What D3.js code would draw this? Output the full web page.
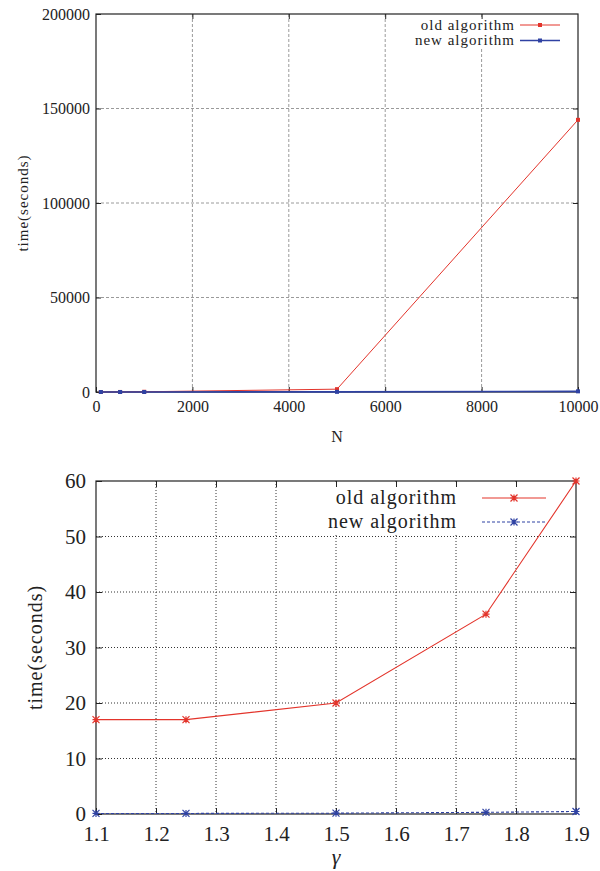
<!DOCTYPE html>
<html><head><meta charset="utf-8">
<script src="https://cdn.jsdelivr.net/npm/d3@7"></script>
<style>body{margin:0;background:#fff}svg text{font-family:"Liberation Serif","Times New Roman","DejaVu Serif",serif;fill:#222}</style>
</head><body>
<svg id="c" width="600" height="871"></svg>
<script>
// ---- Top chart data ----
const topN = [100, 500, 1000, 5000, 10000];
const topOld = [1, 20, 120, 1500, 144000];
const topNew = [0.1, 1, 3, 80, 350];
const topXTicks = [0, 2000, 4000, 6000, 8000, 10000];
const topYTicks = [0, 50000, 100000, 150000, 200000];
// ---- Bottom chart data ----
const gamma = [1.1, 1.25, 1.5, 1.75, 1.9];
const botOld = [17, 17, 20, 36, 60];
const botNew = [0.1, 0.1, 0.15, 0.3, 0.45];
const botXTicks = [1.1, 1.2, 1.3, 1.4, 1.5, 1.6, 1.7, 1.8, 1.9];
const botYTicks = [0, 10, 20, 30, 40, 50, 60];
const seriesNames = ["old algorithm", "new algorithm"];

const FONT = '"Liberation Serif","Times New Roman","DejaVu Serif",serif';
const RED = "#e3342b", BLUE = "#2f42a3";
const svg = d3.select("#c");

function panel(o) {
  const g = svg.append("g");
  const x = d3.scaleLinear().domain(o.xd).range([o.l, o.r]);
  const y = d3.scaleLinear().domain(o.yd).range([o.b, o.t]);
  // grid
  g.selectAll(".gx").data(o.xt.slice(1, -1)).join("line")
    .attr("x1", d => x(d)).attr("x2", d => x(d)).attr("y1", o.t).attr("y2", o.b)
    .attr("stroke", o.gridColor).attr("stroke-width", 1).attr("stroke-dasharray", o.gridDash);
  g.selectAll(".gy").data(o.yt.slice(1, -1)).join("line")
    .attr("x1", o.l).attr("x2", o.r).attr("y1", d => y(d)).attr("y2", d => y(d))
    .attr("stroke", o.gridColor).attr("stroke-width", 1).attr("stroke-dasharray", o.gridDash);
  // legend background
  g.append("rect").attr("x", o.lg.bx).attr("y", o.lg.by).attr("width", o.lg.bw).attr("height", o.lg.bh).attr("fill", "#fff");
  // axes with inward ticks (mirrored)
  const tl = o.tickLen;
  const ax = d3.axisBottom(x).tickValues(o.xt).tickSize(-tl).tickPadding(o.xPad).tickFormat(o.xf);
  const ay = d3.axisLeft(y).tickValues(o.yt).tickSize(-tl).tickPadding(o.yPad).tickFormat(o.yf);
  const gx = g.append("g").attr("transform", `translate(0,${o.b})`).call(ax);
  const gy = g.append("g").attr("transform", `translate(${o.l},0)`).call(ay);
  g.append("g").attr("transform", `translate(0,${o.t})`).call(d3.axisTop(x).tickValues(o.xt.slice(1,-1)).tickSize(-tl).tickFormat(""));
  g.append("g").attr("transform", `translate(${o.r},0)`).call(d3.axisRight(y).tickValues(o.yt.slice(1,-1)).tickSize(-tl).tickFormat(""));
  g.selectAll("g").attr("font-family", FONT);
  g.selectAll(".domain").remove();
  g.selectAll(".tick line").attr("stroke", "#222");
  g.selectAll(".tick text").style("font-family", FONT).style("font-size", o.fs + "px").attr("fill", "#222");
  gx.selectAll(".tick text").attr("dy", "0.71em");
  // frame
  g.append("rect").attr("x", o.l).attr("y", o.t).attr("width", o.r - o.l).attr("height", o.b - o.t)
    .attr("fill", "none").attr("stroke", "#222").attr("stroke-width", 1.2);
  // series
  const series = [
    {v: o.old, c: RED, dash: null, w: o.oldW},
    {v: o.nw, c: BLUE, dash: o.newDash, w: o.newW}
  ];
  const line = d3.line().x(d => x(d[0])).y(d => y(d[1]));
  series.forEach(s => {
    const pts = o.xs.map((xv, i) => [xv, s.v[i]]);
    g.append("path").attr("d", line(pts)).attr("fill", "none").attr("stroke", s.c)
      .attr("stroke-width", s.w).attr("stroke-dasharray", s.dash);
    pts.forEach(p => o.marker(g, x(p[0]), y(p[1]), s.c));
  });
  // legend
  seriesNames.forEach((nm, i) => {
    const yy = o.lg.y0 + i * o.lg.dy;
    g.append("text").attr("x", o.lg.tx).attr("y", yy).attr("dy", "0.32em").attr("text-anchor", "end")
      .style("font-family", FONT).style("font-size", o.lgfs + "px").style("letter-spacing", o.ls + "px").text(nm);
    const s = series[i];
    g.append("line").attr("x1", o.lg.x1).attr("x2", o.lg.x2).attr("y1", yy).attr("y2", yy)
      .attr("stroke", s.c).attr("stroke-width", s.w).attr("stroke-dasharray", s.dash);
    o.marker(g, (o.lg.x1 + o.lg.x2) / 2, yy, s.c);
  });
  // axis titles
  g.append("text").attr("transform", `translate(${o.ylx},${(o.t + o.b) / 2}) rotate(-90)`)
    .attr("text-anchor", "middle").style("font-family", FONT).style("font-size", o.lgfs + "px")
    .style("letter-spacing", o.ls + "px").text("time(seconds)");
  return {g, x, y};
}

function square(g, cx, cy, c) {
  g.append("rect").attr("x", cx - 2).attr("y", cy - 2).attr("width", 4).attr("height", 4).attr("fill", c);
}
function star(g, cx, cy, c) {
  const r = 3.5;
  g.append("path").attr("d", `M${cx-r},${cy}H${cx+r}M${cx},${cy-r}V${cy+r}M${cx-r},${cy-r}L${cx+r},${cy+r}M${cx-r},${cy+r}L${cx+r},${cy-r}`)
    .attr("stroke", c).attr("stroke-width", 1.2).attr("fill", "none");
}

const p1 = panel({
  l: 96, r: 578, t: 14, b: 392, xd: [0, 10000], yd: [0, 200000],
  xt: topXTicks, yt: topYTicks, xf: d3.format("d"), yf: d3.format("d"),
  gridColor: "#9a9a9a", gridDash: "3,2", tickLen: 5, xPad: 9, yPad: 6, fs: 16,
  xs: topN, old: topOld, nw: topNew, oldW: 1, newW: 1.6, newDash: null, marker: square,
  lg: {bx: 410, by: 17, bw: 165, bh: 31, tx: 515, x1: 520, x2: 560, y0: 25, dy: 15.5},
  lgfs: 15, ls: 1, ylx: 28
});
p1.g.append("text").attr("x", 337).attr("y", 442).attr("text-anchor", "middle")
  .style("font-family", FONT).style("font-size", "16px").text("N");

const p2 = panel({
  l: 96, r: 576, t: 481, b: 814, xd: [1.1, 1.9], yd: [0, 60],
  xt: botXTicks, yt: botYTicks, xf: d3.format(".1f"), yf: d3.format("d"),
  gridColor: "#333", gridDash: "1,2", tickLen: 6, xPad: 12, yPad: 10, fs: 21,
  xs: gamma, old: botOld, nw: botNew, oldW: 1.1, newW: 1.1, newDash: "3,2", marker: star,
  lg: {bx: 318, by: 484, bw: 256, bh: 49, tx: 457, x1: 482, x2: 546, y0: 498, dy: 24},
  lgfs: 20, ls: 1, ylx: 42
});
p2.g.append("text").attr("x", 336).attr("y", 864).attr("text-anchor", "middle")
  .style("font-family", FONT).style("font-size", "22px").style("font-style", "italic").text("γ");
</script>
</body></html>
